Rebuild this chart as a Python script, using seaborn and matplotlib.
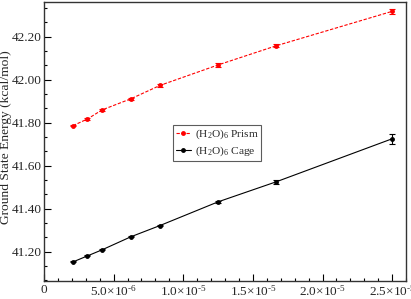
import numpy as np
import pandas as pd
import matplotlib
matplotlib.use('Agg')
import matplotlib.pyplot as plt
import seaborn as sns
from matplotlib.ticker import AutoMinorLocator, MultipleLocator, FixedLocator

# donnees
tau = [2.083e-6, 3.125e-6, 4.167e-6, 6.25e-6, 8.333e-6, 1.25e-5, 1.667e-5, 2.5e-5]
prism = [41.786, 41.817, 41.859, 41.911, 41.973, 42.068, 42.157, 42.317]
prism_err = [0.002, 0.003, 0.003, 0.004, 0.006, 0.010, 0.006, 0.010]
cage = [41.153, 41.181, 41.209, 41.270, 41.322, 41.432, 41.525, 41.725]
cage_err = [0.002, 0.002, 0.003, 0.003, 0.004, 0.006, 0.010, 0.022]

xticks = [0, 5e-6, 1e-5, 1.5e-5, 2e-5, 2.5e-5]
xticklabels = ['0', r'5.0$\times$10$^{\text{-}6}$', r'1.0$\times$10$^{\text{-}5}$', r'1.5$\times$10$^{\text{-}5}$',
               r'2.0$\times$10$^{\text{-}5}$', r'2.5$\times$10$^{\text{-}5}$']
yticks = [41.2, 41.4, 41.6, 41.8, 42.0, 42.2]
yticklabels = ['41.20', '41.40', '41.60', '41.80', '42.00', '42.20']

df = pd.DataFrame({'tau': tau * 2,
                   'E': prism + cage,
                   'err': prism_err + cage_err,
                   'serie': [r'(H$_2$O)$_6$ Prism'] * 8 + [r'(H$_2$O)$_6$ Cage'] * 8})

sns.set_style('ticks')
plt.rcParams['font.family'] = ['Liberation Serif', 'DejaVu Serif']
plt.rcParams['mathtext.fontset'] = 'custom'
plt.rcParams['mathtext.rm'] = 'Liberation Serif'
plt.rcParams['mathtext.it'] = 'Liberation Serif:italic'

fig = plt.figure(figsize=(4.11, 2.99), dpi=100)
ax = fig.add_axes([0.107, 0.06, 0.881, 0.933])

couleurs = {r'(H$_2$O)$_6$ Prism': 'red', r'(H$_2$O)$_6$ Cage': 'black'}
styles = {r'(H$_2$O)$_6$ Prism': (0, (3, 1.5)), r'(H$_2$O)$_6$ Cage': '-'}

for nom, sub in df.groupby('serie', sort=False):
    sns.lineplot(data=sub, x='tau', y='E', ax=ax, color=couleurs[nom], lw=0.8,
                 linestyle=styles[nom], marker='o', markersize=3.5, markeredgewidth=0,
                 label=nom)
    ax.errorbar(sub['tau'], sub['E'], yerr=sub['err'], fmt='none', ecolor=couleurs[nom],
                elinewidth=0.8, capsize=2.5, capthick=0.8)

ax.set_xlim(0, 2.6e-5)
ax.set_ylim(41.064, 42.36)
ax.xaxis.set_major_locator(FixedLocator(xticks))
ax.set_xticklabels(xticklabels, fontsize=9.5)
ax.xaxis.set_minor_locator(MultipleLocator(1e-6))
ax.yaxis.set_major_locator(FixedLocator(yticks))
ax.set_yticklabels(yticklabels, fontsize=9.5)
ax.yaxis.set_minor_locator(AutoMinorLocator(3))
ax.tick_params(which='both', direction='in', top=False, right=False, color='black')
ax.tick_params(axis='y', pad=1.5)
ax.tick_params(axis='x', pad=2)
ax.tick_params(which='major', length=5, width=0.8)
ax.tick_params(which='minor', length=2.5, width=0.8)
for s in ax.spines.values():
    s.set_color('#333333')
    s.set_linewidth(1)

ax.set_xlabel('')
ax.set_ylabel('Ground State Energy (kcal/mol)', fontsize=9.7)
ax.yaxis.set_label_coords(-0.088, 0.515)

leg = ax.legend(loc='upper left', bbox_to_anchor=(0.356, 0.559), fontsize=8.2, frameon=True,
                fancybox=False, edgecolor='#333333', handlelength=1.3, handletextpad=0.35,
                borderpad=0.25, labelspacing=0.25, borderaxespad=0)
leg.get_frame().set_linewidth(0.8)

fig.savefig('out.png', dpi=100)
